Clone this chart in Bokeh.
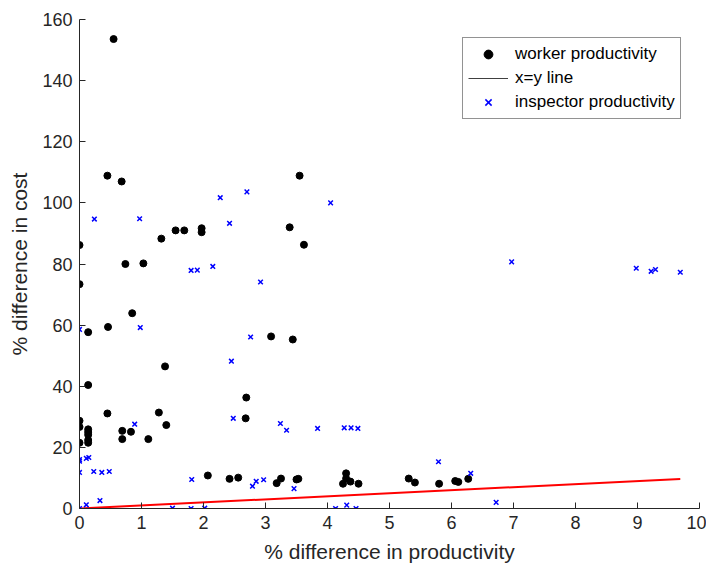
from bokeh.plotting import figure
from bokeh.models import ColumnDataSource, Legend, LegendItem, Range1d, FixedTicker
from bokeh.embed import file_html
from bokeh.resources import INLINE

# worker productivity (black dots)
worker_x = [0.55, 0.45, 0.68, 1.32, 1.55, 1.69, 1.97, 1.97, 3.39, 3.55, 3.62, 0.0,
            0.0, 0.74, 1.03, 0.14, 0.46, 0.85, 3.09, 3.44, 1.38, 0.14, 2.69,
            0.0, 0.0, 0.0, 0.14, 0.14, 0.14, 0.14, 0.14, 0.45, 0.69, 0.69, 0.83,
            1.11, 1.28, 1.40, 2.68, 2.07, 2.42, 2.56, 3.18, 3.25, 3.50, 3.53,
            4.25, 4.30, 4.30, 4.37, 4.50, 5.31, 5.41, 5.80, 6.06, 6.11, 6.27]
worker_y = [153.6, 108.9, 107.0, 88.3, 91.0, 91.0, 91.7, 90.4, 92.0, 108.9, 86.3, 86.2,
            73.4, 80.0, 80.2, 57.7, 59.4, 63.9, 56.3, 55.3, 46.5, 40.4, 36.3,
            28.7, 26.7, 21.5, 25.9, 25.0, 24.1, 22.4, 21.5, 31.1, 25.4, 22.7, 25.1,
            22.7, 31.4, 27.3, 29.5, 10.8, 9.7, 10.1, 8.3, 9.8, 9.5, 9.7,
            8.1, 11.5, 9.8, 8.8, 8.1, 9.8, 8.5, 8.1, 9.0, 8.7, 9.7]

# inspector productivity (blue crosses)
insp_x = [0.24, 0.97, 2.27, 2.42, 2.70, 4.05, 1.80, 1.90, 2.15, 2.92,
          0.0, 0.98, 2.76, 2.45, 0.89, 2.48, 3.24, 3.34, 3.84, 4.27, 4.38, 4.49,
          0.0, 0.0, 0.11, 0.15, 0.0, 0.23, 0.36, 0.48, 1.81, 2.79, 2.85, 2.97, 3.46,
          5.79, 6.31, 6.72, 0.0, 0.11, 0.33, 1.50, 1.80, 2.02, 4.13, 4.31, 4.46,
          6.97, 8.98, 9.22, 9.29, 9.69]
insp_y = [94.7, 94.8, 101.7, 93.3, 103.6, 100.0, 77.9, 78.0, 79.2, 74.1,
          58.6, 59.2, 56.1, 48.2, 27.6, 29.5, 27.8, 25.6, 26.2, 26.4, 26.4, 26.2,
          16.0, 15.5, 16.4, 16.7, 11.8, 12.1, 11.8, 12.1, 9.5, 7.3, 8.9, 9.4, 6.5,
          15.3, 11.5, 2.0, 0.0, 1.2, 2.6, 0.1, 0.0, 0.1, 0.0, 1.1, 0.0,
          80.7, 78.6, 77.6, 78.2, 77.3]

x_ticks = list(range(0, 11))
y_ticks = list(range(0, 161, 20))

FONT = "Liberation Sans"
TXT = "#262626"

p = figure(width=706, height=566, output_backend="svg", toolbar_location=None,
           x_range=Range1d(0, 10), y_range=Range1d(0, 160),
           min_border_left=79, min_border_right=7, min_border_top=19, min_border_bottom=58)
p.outline_line_color = None
p.xgrid.visible = False
p.ygrid.visible = False

for ax in (p.xaxis[0], p.yaxis[0]):
    ax.axis_line_color = TXT
    ax.major_tick_line_color = TXT
    ax.major_tick_in = 6
    ax.major_tick_out = 0
    ax.minor_tick_line_color = None
    ax.major_label_text_font = FONT
    ax.major_label_text_font_size = "18px"
    ax.major_label_text_color = TXT
    ax.axis_label_text_font = FONT
    ax.axis_label_text_font_size = "21px"
    ax.axis_label_text_font_style = "normal"
    ax.axis_label_text_color = TXT

p.xaxis.ticker = FixedTicker(ticks=x_ticks)
p.yaxis.ticker = FixedTicker(ticks=y_ticks)
p.xaxis.axis_label = "% difference in productivity"
p.yaxis.axis_label = "% difference in cost"
p.xaxis.major_label_standoff = 7
p.yaxis.major_label_standoff = 7
p.xaxis.axis_label_standoff = 8
p.yaxis.axis_label_standoff = 8

line_max = max(max(worker_x), max(insp_x))
line_src = ColumnDataSource(dict(x=[0, line_max], y=[0, line_max]))
nan = float("nan")
legline_src = ColumnDataSource(dict(x=[nan, nan], y=[nan, nan]))

r_worker = p.scatter(worker_x, worker_y, marker="circle", size=7,
                     fill_color="black", line_color="black")
p.line("x", "y", source=line_src, line_color="#FF0000", line_width=2)
r_insp = p.scatter(insp_x, insp_y, marker="x", size=6.5,
                   line_color="#0000FF", line_width=1.5)
r_legline = p.line("x", "y", source=legline_src, line_color="#404040", line_width=1)

legend = Legend(items=[LegendItem(label="worker productivity", renderers=[r_worker]),
                       LegendItem(label="x=y line", renderers=[r_legline]),
                       LegendItem(label="inspector productivity", renderers=[r_insp])],
                location=(383, 389))
legend.label_text_font = FONT
legend.label_text_font_size = "17px"
legend.label_text_color = "black"
legend.glyph_width = 40
legend.glyph_height = 22
legend.label_height = 22
legend.label_standoff = 7
legend.spacing = 2
legend.padding = 5
legend.margin = 0
legend.border_line_color = "#262626"
legend.border_line_width = 1
legend.background_fill_color = "white"
legend.background_fill_alpha = 1
p.add_layout(legend, "center")

open("out.html", "w").write(file_html(p, INLINE))
